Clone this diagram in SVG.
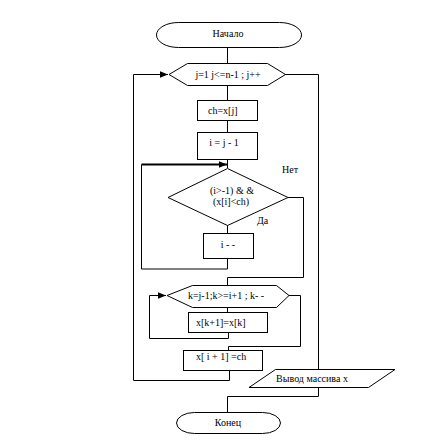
<svg xmlns="http://www.w3.org/2000/svg" width="448" height="440" viewBox="0 0 448 440">
<style>
.s{fill:#fff;stroke:#000;stroke-width:1}
.c{fill:none;stroke:#000;stroke-width:1}
.t{font-family:"Liberation Serif","Times New Roman",serif;font-size:10px;fill:#000;text-anchor:middle}
.l{font-family:"Liberation Serif","Times New Roman",serif;font-size:10px;fill:#000}
</style>
<defs>
<marker id="a" viewBox="0 0 10 10" refX="10" refY="5" markerWidth="8" markerHeight="8" markerUnits="userSpaceOnUse" orient="auto"><path d="M0,1 L10,5 L0,9 Z" fill="#000"/></marker>
</defs>
<rect width="448" height="440" fill="#fff"/>
<g id="connectors">
<path class="c" d="M227.5,47 V63"/>
<path class="c" d="M227.5,86 V100"/>
<path class="c" d="M227.5,121 V132"/>
<path class="c" d="M227.5,160 V168"/>
<path class="c" d="M227.5,225 V233"/>
<path class="c" d="M141.5,269 H227.5 V258"/>
<path class="c" d="M141.5,269 V164.5" />
<path d="M141.5,164.5 H227" fill="none" stroke="#000" stroke-width="2" marker-end="url(#a)"/>
<path class="c" d="M288,197.5 H303.5 V277.5 H227.5 V285"/>
<path class="c" d="M227.5,308 V312"/>
<path class="c" d="M228.5,332 V338.5 H149.5 V295.5 H166" marker-end="url(#a)"/>
<path class="c" d="M289,295.5 H300.5 V346.5 H228.5 V350"/>
<path class="c" d="M229.5,371 V380.5 H133.5 V74.5 H168" marker-end="url(#a)"/>
<path class="c" d="M285,74.5 H318.5 V369"/>
<path class="c" d="M318.5,387 V396.5 H227.5 V412"/>
</g>
<g id="start">
<rect class="s" x="156.5" y="22.5" width="145" height="25" rx="22" ry="12.5"/>
<text class="t" x="228" y="37">Начало</text>
</g>
<g id="loop1">
<polygon class="s" points="169,74.5 187.5,63.5 267.5,63.5 285.5,74.5 267.5,85.5 187.5,85.5"/>
<text class="t" x="228" y="78">j=1 j&lt;=n-1 ; j++</text>
</g>
<g id="assign-ch">
<rect class="s" x="197.5" y="100.5" width="60" height="20"/>
<text class="l" x="208" y="114">ch=x[j]</text>
</g>
<g id="assign-i">
<rect class="s" x="197.5" y="132.5" width="60" height="27"/>
<text class="t" x="224" y="146">i = j - 1</text>
</g>
<g id="cond">
<polygon class="s" points="227.5,168.5 288,197.5 227.5,225.5 168,197.5"/>
<text class="t" x="232" y="194">(i&gt;-1) &amp; &amp;</text>
<text class="t" x="231" y="205">(x[i]&lt;ch)</text>
<text class="l" x="282" y="173">Нет</text>
<text class="l" x="257" y="224">Да</text>
</g>
<g id="dec-i">
<rect class="s" x="203.5" y="233.5" width="50" height="25"/>
<text class="t" x="228" y="248">i - -</text>
</g>
<g id="loop2">
<polygon class="s" points="167,295.5 192.5,285.5 276.5,285.5 289,295.5 276.5,307.5 192.5,307.5"/>
<text class="t" x="226" y="299">k=j-1;k&gt;=i+1 ; k- -</text>
</g>
<g id="shift">
<rect class="s" x="188.5" y="312.5" width="79" height="20"/>
<text class="l" x="196" y="326">x[k+1]=x[k]</text>
</g>
<g id="assign-x">
<rect class="s" x="183.5" y="350.5" width="79" height="20"/>
<text class="l" x="196" y="360">x[ i + 1] =ch</text>
</g>
<g id="output">
<polygon class="s" points="275.5,369.5 395,369.5 368.5,387.5 249,387.5"/>
<text class="t" x="312" y="382">Вывод массива х</text>
</g>
<g id="end">
<rect class="s" x="176.5" y="412.5" width="104" height="21" rx="18" ry="10.5"/>
<text class="t" x="228" y="426">Конец</text>
</g>
</svg>
